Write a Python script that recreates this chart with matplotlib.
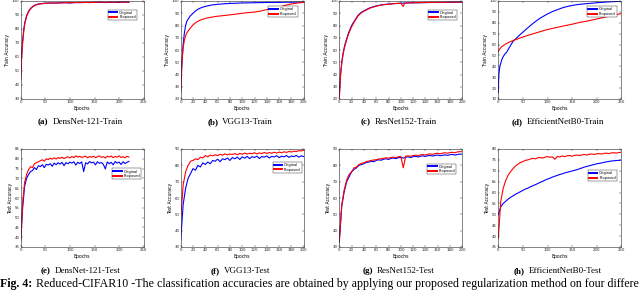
import numpy as np
import matplotlib
matplotlib.use("Agg")
import matplotlib.pyplot as plt

# ---- 数据 ----
# (a) DensNet-121 train
a_ep = [0, 2, 4, 6, 8, 10, 12, 15, 18, 21, 25, 30, 35, 40, 45, 50, 60, 70, 80, 90,
        100, 110, 120, 130, 140, 150, 160, 170, 180, 190, 200, 210, 220]
a_orig = [45, 62, 72, 79, 84, 87, 89.5, 92, 93.8, 95, 96.3, 97.2, 97.8, 98.1, 98.3, 98.4,
          98.6, 98.5, 98.7, 98.8, 98.6, 98.9, 98.8, 99, 98.9, 99, 99.1, 98.9, 99, 99.1,
          99, 99.2, 99.1]
a_prop = [44, 60, 70, 77.5, 83, 86.3, 89, 91.5, 93.4, 94.8, 96, 97, 97.6, 97.9, 98.1, 98.3,
          98.5, 98.6, 98.6, 98.8, 98.7, 98.9, 99, 98.9, 99.1, 99, 99.2, 99.1, 99.2, 99.1,
          99.3, 99.2, 99.3]

# (b) VGG13 train
b_ep = [0, 2, 4, 6, 8, 10, 15, 20, 25, 30, 35, 40, 50, 60, 70, 80, 90, 100, 110, 120,
        130, 140, 150, 160, 170, 180, 190, 200]
b_orig = [25, 50, 65, 74, 80, 83.5, 87.5, 90, 92.3, 93.8, 94.8, 95.6, 96.7, 97.3, 97.7,
          98, 98.2, 98.4, 98.5, 98.6, 98.7, 98.8, 98.8, 98.9, 99, 99, 99.1, 99.1]
b_prop = [28, 50, 62, 68, 71.5, 74, 77.5, 80.5, 82.5, 84, 85, 85.8, 86.8, 87.6, 88.1,
          88.7, 89.3, 90, 90.5, 91, 91.8, 93, 94, 95, 96.5, 97.6, 98.3, 99]

# (c) ResNet152 train
c_ep = [0, 2, 4, 6, 8, 10, 15, 20, 25, 30, 35, 40, 50, 60, 70, 80, 90, 100, 104, 106,
        110, 120, 130, 140, 150, 160, 170, 180, 190, 200]
c_orig = [22, 40, 50, 57, 62, 66, 74, 80, 84, 88, 90.5, 92, 94.5, 96, 97, 97.5, 97.9,
          98.2, 98.3, 98.3, 98.4, 98.5, 98.6, 98.7, 98.8, 98.8, 98.9, 98.9, 99, 99]
c_prop = [21, 39, 49, 56, 61, 65, 73, 79, 83.5, 87.5, 90, 91.7, 94.2, 95.8, 96.8, 97.4,
          97.9, 98.2, 95.5, 98.2, 98.4, 98.6, 98.7, 98.8, 98.9, 98.9, 99, 99.1, 99.1, 99.2]

# (d) EfficientNetB0 train
d_ep = [0, 1, 3, 5, 7, 10, 13, 17, 22, 30, 37, 44, 54, 64, 75, 86, 98, 110, 120, 132,
        145, 155, 166, 180, 200, 225, 250]
d_orig = [16, 32, 39.5, 43, 46, 49, 51, 53, 57, 63, 66, 69, 73, 77, 81, 84.5, 87.6, 90.3,
          92, 94, 95.5, 96.3, 97, 97.6, 98.4, 99.2, 99.8]
d_prop = [53.5, 54.5, 56, 57, 58, 59, 60, 61, 62.2, 63.7, 64.8, 66, 67.5, 69, 70.5, 72,
          73.6, 74.8, 75.8, 77, 78.2, 79.2, 80.4, 81.5, 83.5, 86, 88.5]

# (e) DensNet-121 test, 每 4 个 epoch 一个点
e_ep = np.arange(0, 221, 4)
e_orig = [38, 55, 66, 70, 72, 73.5, 74, 75.5, 74.5, 76.5, 76, 77, 75.5, 77.2, 76.8, 77.5,
          76.2, 77.8, 77, 78, 77.3, 78.2, 76.5, 78, 77.5, 78.3, 77.8, 78.5, 76.8, 78.2,
          77.6, 78.4, 73.5, 78, 77.4, 78.6, 77.9, 78.3, 76.9, 78.5, 77.7, 78.1, 77.2, 74.8,
          78.4, 77.5, 78.2, 76.9, 78.6, 77.8, 78.3, 77.1, 78.5, 77.6, 78.2, 78.7]
e_prop = [39, 58, 68, 72, 74.5, 76, 75.5, 77.5, 78, 78.5, 79, 79.5, 78.8, 80, 79.6, 80.3,
          79.8, 80.5, 79.9, 80.6, 80.2, 80.8, 80.1, 80.7, 81, 80.4, 81.2, 80.6, 81.5, 80.9,
          81.3, 80.7, 81, 81.4, 80.5, 81.2, 80.8, 81.3, 80.6, 81, 81.5, 80.7, 81.1, 80.4,
          81.3, 80.9, 81.4, 80.6, 81.2, 80.8, 81.5, 80.7, 81.1, 80.5, 81.3, 80.9]

# (f) VGG13 test
f_ep = np.arange(0, 201, 4)
f_orig = [34, 56, 66, 72, 75, 78, 77, 80, 79, 81.5, 80.5, 82, 81, 83, 82.5, 83.8, 82.2,
          84, 83.5, 84.5, 83, 84.8, 84, 85, 83.6, 85.2, 84.4, 85.5, 84.1, 85.3, 84.8, 85.6,
          84.2, 85.4, 85, 85.8, 84.5, 85.5, 85.1, 85.9, 84.7, 85.6, 85.2, 86, 84.9, 85.7,
          85.3, 86.1, 85, 85.8, 85.4]
f_prop = [48, 68, 76, 80, 82.5, 83, 84, 83.5, 85, 84.5, 86, 85.2, 86.3, 85.8, 86.5, 85.9,
          86.8, 86.2, 87, 86.4, 86.9, 86.6, 87.2, 86.5, 87.3, 86.8, 87.5, 86.9, 87.4, 87.1,
          87.7, 87, 87.6, 87.2, 87.9, 87.3, 87.8, 87.4, 88, 87.5, 88.1, 87.7, 88.3, 87.9,
          88.5, 88.1, 88.7, 88.4, 89, 88.8, 89.4]

# (g) ResNet152 test
g_ep = np.arange(0, 201, 4)
g_orig = [33, 55, 64, 70, 73, 76, 77.5, 78.5, 80, 80.5, 81, 81.8, 82, 82.5, 82.2, 83,
          83.4, 83.1, 83.8, 84, 83.6, 84.2, 84.5, 84.1, 84.6, 84.9, 84.4, 85, 85.2, 84.8,
          85.3, 85.5, 85.1, 85.6, 85.8, 85.4, 85.9, 86, 85.7, 86.1, 86.3, 85.9, 86.2, 86.4,
          86.1, 86.5, 86.7, 86.3, 86.6, 86.9, 86.7]
g_prop = [34, 56, 65, 71, 74.5, 76, 78.5, 79, 80.5, 81.2, 81.5, 82.3, 82.6, 83, 83.2,
          83.5, 83.9, 84, 84.3, 84.6, 84.4, 84.8, 85, 84.7, 85.3, 85.4, 78.5, 85.6, 85.8,
          85.5, 86, 86.2, 85.9, 86.4, 86.6, 86.3, 86.8, 87, 86.7, 87.2, 87.4, 87.1, 87.5,
          87.7, 87.4, 87.8, 88, 87.7, 88.2, 88.4, 88.3]

# (h) EfficientNetB0 test, 每 5 个 epoch 一个点
h_ep = np.arange(0, 251, 5)
h_orig = [49.8, 53.5, 55, 56, 57, 57.8, 58.5, 59.2, 59.8, 60.4, 61, 61.6, 62, 62.6, 63.1,
          63.6, 64.1, 64.7, 65.1, 65.7, 66.2, 66.6, 67.1, 67.5, 67.9, 68.3, 68.6, 69, 69.3,
          69.6, 69.9, 70.2, 70.5, 70.9, 71.3, 71.7, 72, 72.3, 72.6, 72.9, 73.2, 73.4, 73.6,
          73.9, 74.1, 74.3, 74.5, 74.6, 74.7, 74.8, 74.9]
h_prop = [39, 56, 62, 65.5, 68, 69.6, 71, 72.2, 73, 73.8, 74.2, 74.8, 75, 75.4, 75.7,
          75.5, 75.9, 76.1, 75.8, 76.3, 76.5, 76.2, 76.4, 75.3, 76.6, 76.3, 76.8, 76.5,
          76.9, 77, 76.7, 77.1, 77.2, 77, 77.3, 77.5, 77.2, 77.6, 77.7, 77.5, 77.8, 77.9,
          77.7, 78, 78.1, 77.9, 78.2, 78.3, 78.1, 78.4, 78.5]

# ---- 画图 ----
W, H = 640, 291
fig = plt.figure(figsize=(W / 100, H / 100), dpi=100)
serif = ['Liberation Serif', 'DejaVu Serif']

# (数据, 坐标轴范围, 面板位置, 图例位置, 子标题)
panels = [
    (a_ep, a_orig, a_prop, (0, 250, 50), (30, 100, 10), 'Train Accuracy', 20.7, 1, (0.96, 0.93), '(a)', 'DensNet-121-Train'),
    (b_ep, b_orig, b_prop, (0, 200, 20), (20, 100, 10), 'Train Accuracy', 180.7, 1, (0.965, 0.965), '(b)', 'VGG13-Train'),
    (c_ep, c_orig, c_prop, (0, 200, 20), (20, 100, 10), 'Train Accuracy', 339.3, 1, (0.973, 0.93), '(c)', 'ResNet152-Train'),
    (d_ep, d_orig, d_prop, (0, 250, 50), (10, 100, 10), 'Train Accuracy', 498.3, 1, (0.978, 0.965), '(d)', 'EfficientNetB0-Train'),
    (e_ep, e_orig, e_prop, (0, 250, 50), (35, 85, 5), 'Test Accuracy', 20.7, 149, (0.995, 0.82), '(e)', 'DensNet-121-Test'),
    (f_ep, f_orig, f_prop, (0, 200, 20), (30, 90, 10), 'Test Accuracy', 180.7, 149, (1.0, 0.887), '(f)', 'VGG13-Test'),
    (g_ep, g_orig, g_prop, (0, 200, 20), (30, 90, 10), 'Test Accuracy', 339.3, 149, (0.967, 0.87), '(g)', 'ResNet152-Test'),
    (h_ep, h_orig, h_prop, (0, 250, 50), (35, 80, 5), 'Test Accuracy', 498.3, 149, (0.98, 0.80), '(h)', 'EfficientNetB0-Test'),
]

ax_w, ax_h = 123, 98
captions = []
for ep, yo, yp, xl, yl, ylab, px, py, lpos, tag, name in panels:
    ax = fig.add_axes([px / W, 1 - (py + ax_h) / H, ax_w / W, ax_h / H])
    ax.plot(ep, yo, color='#0000ff', lw=0.8, label='Original')
    ax.plot(ep, yp, color='#ff0000', lw=0.8, label='Proposed')
    ax.set_xlim(xl[0], xl[1])
    ax.set_ylim(yl[0], yl[1])
    ax.set_xticks(np.arange(xl[0], xl[1] + 1, xl[2]))
    ax.set_yticks(np.arange(yl[0], yl[1] + 1, yl[2]))
    ax.tick_params(direction='in', length=1.5, width=0.3, labelsize=2.8, pad=1,
                   top=True, right=True, colors='#262626')
    for s in ax.spines.values():
        s.set_linewidth(0.4)
        s.set_color('#262626')
    ax.set_xlabel('Epochs', fontsize=3.3, labelpad=1)
    ax.set_ylabel(ylab, fontsize=3.3, labelpad=1)
    leg = ax.legend(loc='upper right', bbox_to_anchor=lpos, fontsize=2.6,
                    handlelength=2.4, fancybox=False, framealpha=1, borderpad=0.3,
                    labelspacing=0.15, handletextpad=0.5)
    leg.get_frame().set_edgecolor('#262626')
    leg.get_frame().set_linewidth(0.3)
    for ln in leg.get_lines():
        ln.set_linewidth(1.4)
    # 子标题: 先放在中心, 测量后整体居中
    cy = 122 if py == 1 else 271
    t1 = fig.text(0, 1 - cy / H, tag, fontsize=6.5, family=serif, weight='bold',
                  ha='left', va='center')
    t2 = fig.text(0, 1 - cy / H, name, fontsize=6.5, family=serif,
                  ha='left', va='center')
    captions.append((t1, t2, px + ax_w / 2))

fig.canvas.draw()
r = fig.canvas.get_renderer()
gap = 4
for t1, t2, cx in captions:
    w1 = t1.get_window_extent(r).width
    w2 = t2.get_window_extent(r).width
    x0 = cx - 2 - (w1 + gap + w2) / 2
    t1.set_x(x0 / W)
    t2.set_x((x0 + w1 + gap) / W)

# 图注
fig.text(0.5 / W, 1 - 284 / H, 'Fig. 4:', fontsize=8.6, family=serif, weight='bold',
         ha='left', va='center')
fig.text(36 / W, 1 - 284 / H,
         'Reduced-CIFAR10 -The classification accuracies are obtained by applying our '
         'proposed regularization method on four differe',
         fontsize=8.6, family=serif, ha='left', va='center')

fig.savefig('out.png', dpi=100)
